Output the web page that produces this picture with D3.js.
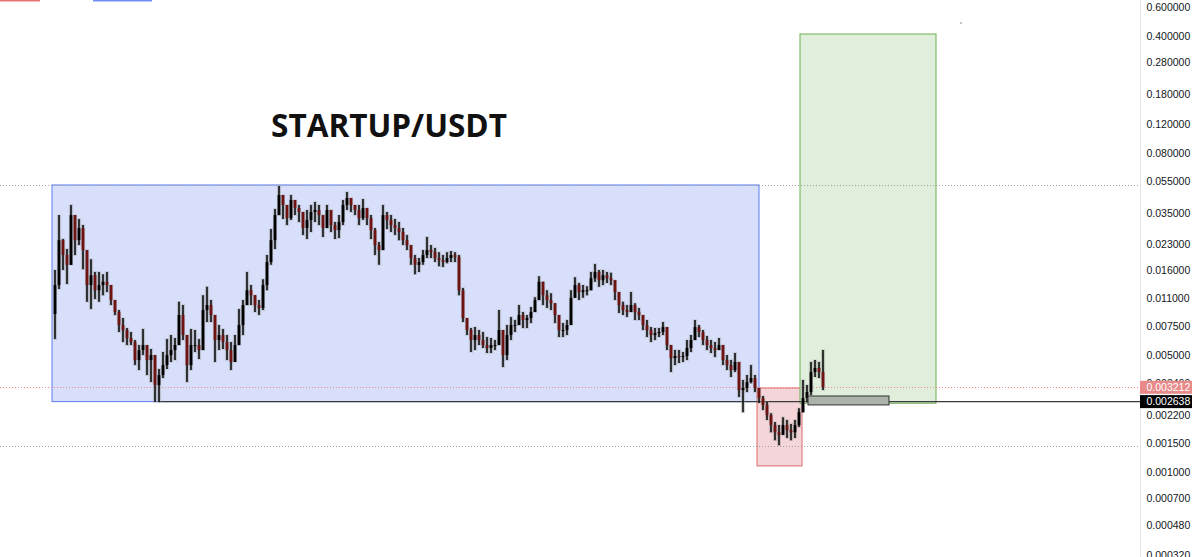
<!DOCTYPE html>
<html>
<head>
<meta charset="utf-8">
<script src="https://cdn.jsdelivr.net/npm/d3@7"></script>
<style>
  html, body { margin: 0; padding: 0; background: #fff; }
  svg { display: block; }
</style>
</head>
<body>
<div class="chart"></div>
<script>
// candle data (open = previous close)
const firstOpen = 0.0088;
const highs = [
  .0161,.0343,.0247,.0215,.0394,.0343,.0325,.0299,.0212,.0187,
  .0157,.0157,.0152,.0157,.0131,.01066,.00929,.00832,.00725,.00687,
  .00615,.00574,.00716,.00574,.00544,.00500,.00413,.00522,.00624,.00659,
  .00632,.0104,.00995,.00659,.00716,.00706,.00624,.0114,.0128,.01066,
  .00832,.00756,.00716,.00659,.00598,.00659,.00942,.01066,.0157,.0131,
  .0114,.01066,.0142,.0198,.0283,.0373,.0512,.0452,.0378,.0452,
  .0422,.0394,.0353,.0368,.0394,.0411,.0394,.0343,.0394,.0368,
  .0312,.0343,.0422,.0471,.0434,.0394,.0394,.0428,.0378,.0343,
  .0287,.0237,.0394,.0358,.0343,.0325,.0312,.0287,.0261,.0227,
  .0198,.0190,.0212,.0254,.0227,.0218,.0206,.0198,.0206,.0209,
  .0206,.0198,.0126,.00832,.00725,.00735,.00706,.00687,.00641,.00632,
  .00615,.00929,.00706,.00756,.00844,.00810,.00995,.00904,.00868,.00968,
  .0111,.0148,.0131,.0122,.0117,.00995,.00832,.00777,.00810,.0122,
  .0146,.0135,.0131,.0129,.0157,.0175,.0161,.0161,.0157,.0155,
  .0140,.0114,.0104,.00995,.0119,.0102,.00955,.00868,.00810,.00735,
  .00725,.00725,.00788,.00706,.00574,.00536,.00536,.00522,.00615,.00659,
  .00810,.00756,.00706,.00650,.00615,.00598,.00632,.00551,.00500,.00467,
  .00515,.00436,.00355,.00380,.00436,.00380,.00318,.00285,.00262,.00225,
  .00199,.00191,.00213,.00205,.00194,.00205,.00241,.00355,.00331,.00455,
  .00467,.00455,.00536
];
const lows = [
  .00624,.0124,.0161,.0133,.0185,.0198,.0227,.0163,.0104,.00942,
  .0108,.0104,.0114,.0119,.00995,.00868,.00687,.00598,.00574,.00574,
  .00436,.00407,.00500,.00380,.00345,.00262,.00262,.00365,.00413,.00455,
  .00467,.00598,.00615,.00345,.00407,.00522,.00474,.00574,.00788,.00788,
  .00455,.00536,.00544,.00467,.00407,.00474,.00574,.00659,.00995,.00995,
  .00904,.00868,.00929,.0122,.0173,.0215,.0343,.0325,.0299,.0321,
  .0343,.0312,.0261,.0247,.0272,.0312,.0299,.0254,.0287,.0272,
  .0247,.0250,.0299,.0368,.0358,.0343,.0299,.0321,.0299,.0247,
  .0198,.0173,.0212,.0283,.0272,.0261,.0243,.0227,.0212,.0173,
  .0152,.0157,.0173,.0190,.0190,.0180,.0170,.0168,.0177,.0180,
  .0180,.0114,.00788,.00659,.00522,.00536,.00574,.00551,.00515,.00515,
  .00536,.00574,.00424,.00467,.00615,.00687,.00756,.00725,.00725,.00777,
  .00904,.0114,.00995,.00955,.00929,.00777,.00641,.00641,.00659,.00810,
  .0114,.01066,.0110,.0114,.0122,.0137,.0128,.0131,.0135,.0131,
  .01066,.00892,.00868,.00844,.00904,.00810,.00810,.00706,.00641,.00598,
  .00615,.00641,.00659,.00536,.00396,.00436,.00448,.00455,.00467,.00522,
  .00632,.00641,.00574,.00536,.00515,.00487,.00536,.00436,.00407,.00370,
  .00396,.00281,.00228,.00301,.00340,.00301,.00259,.00235,.00205,.00173,
  .00155,.00145,.00167,.00160,.00155,.00160,.00186,.00235,.00262,.00289,
  .00370,.00365,.00309
];
const closes = [
  .0131,.0243,.0198,.0173,.0343,.0243,.0287,.0212,.0131,.0150,
  .0122,.0131,.0137,.0131,.01066,.00904,.00756,.00706,.00632,.00598,
  .00467,.00536,.00574,.00467,.00500,.00331,.00380,.00436,.00500,.00536,
  .00574,.00868,.00659,.00436,.00574,.00574,.00536,.00929,.00995,.00868,
  .00615,.00659,.00598,.00536,.00455,.00574,.00756,.00995,.0122,.0114,
  .00995,.00955,.0131,.0180,.0243,.0343,.0452,.0394,.0329,.0422,
  .0378,.0358,.0287,.0321,.0358,.0368,.0343,.0287,.0368,.0299,
  .0279,.0312,.0394,.0434,.0394,.0368,.0329,.0378,.0329,.0279,
  .0227,.0212,.0343,.0321,.0299,.0287,.0272,.0243,.0227,.0190,
  .0173,.0180,.0198,.0212,.0206,.0190,.0185,.0180,.0190,.0198,
  .0193,.0122,.00832,.00706,.00615,.00659,.00615,.00574,.00551,.00574,
  .00574,.00706,.00500,.00659,.00756,.00756,.00868,.00810,.00832,.00904,
  .01066,.0137,.0114,.01066,.0102,.00868,.00706,.00706,.00756,.0110,
  .0131,.0119,.0122,.0122,.0144,.0157,.0140,.0150,.0144,.0140,
  .0119,.00995,.00929,.00904,.00995,.00904,.00868,.00756,.00706,.00659,
  .00677,.00687,.00735,.00574,.00480,.00494,.00487,.00494,.00551,.00615,
  .00735,.00687,.00615,.00574,.00551,.00536,.00574,.00467,.00436,.00407,
  .00455,.00309,.00318,.00345,.00365,.00318,.00277,.00252,.00219,.00191,
  .00173,.00167,.00191,.00178,.00173,.00191,.00228,.00277,.00301,.00396,
  .00419,.00396,.00322
];

// price axis
const tickValues = [0.6, 0.4, 0.28, 0.18, 0.12, 0.08, 0.055, 0.035, 0.023, 0.016,
  0.011, 0.0075, 0.005, 0.0034, 0.0022, 0.0015, 0.001, 0.0007, 0.00048, 0.00032];
const lastPrice = 0.003212;
const linePrice = 0.002638;
const dottedLevels = [0.0519, 0.00143];

// drawings: [startIndex, endIndex, topPrice, bottomPrice]
const rangeBox = [-0.75, 176, 0.0519, 0.002638];
const stopBox = [175.5, 186.75, 0.00318, 0.00109];
const targetBox = [186.25, 220.25, 0.414, 0.00258];
const entryBox = [188.25, 208.5, 0.00285, 0.00252];
const lineStart = 25.8;

const W = 1200, H = 557, axisX = 1140;

const candles = closes.map((c, i) => {
  const o = i === 0 ? firstOpen : closes[i - 1];
  return {i: i, o: o, c: c, h: d3.max([highs[i], o, c]), l: d3.min([lows[i], o, c])};
});

const x = d3.scaleLinear().domain([0, candles.length - 1]).range([55, 823]);
const y = d3.scaleLog().domain([0.6, 0.00032]).range([7, 555]);

const svg = d3.select('.chart').append('svg')
  .attr('width', W).attr('height', H);

// boxes
function box(b, fill, stroke) {
  svg.append('rect')
    .attr('x', x(b[0])).attr('y', y(b[2]))
    .attr('width', x(b[1]) - x(b[0]))
    .attr('height', y(b[3]) - y(b[2]))
    .attr('fill', fill).attr('stroke', stroke).attr('stroke-width', 1);
}
box(rangeBox, '#d7dffa', '#5b7cf2');
box(stopBox, '#f4d5d9', '#e06a6a');
box(targetBox, '#e0eedc', '#6aaf52');

// dotted levels
svg.selectAll('.lvl')
  .data(dottedLevels)
  .enter()
  .append('line')
  .attr('class', 'lvl')
  .attr('x1', 0).attr('x2', axisX)
  .attr('y1', d => Math.round(y(d)) + 0.5).attr('y2', d => Math.round(y(d)) + 0.5)
  .attr('stroke', '#a0a0a0').attr('stroke-dasharray', '1,2');

svg.append('line')
  .attr('x1', 0).attr('x2', axisX)
  .attr('y1', Math.round(y(lastPrice)) + 0.5).attr('y2', Math.round(y(lastPrice)) + 0.5)
  .attr('stroke', '#f08a8a').attr('stroke-dasharray', '1,2');

// horizontal line
svg.append('line')
  .attr('x1', x(lineStart)).attr('x2', axisX)
  .attr('y1', y(linePrice)).attr('y2', y(linePrice))
  .attr('stroke', '#3a3a3a').attr('stroke-width', 1.4);

// candles
const cg = svg.append('g');
cg.selectAll('.halo')
  .data(candles)
  .enter()
  .append('rect')
  .attr('class', 'halo')
  .attr('x', d => x(d.i) - 2.1)
  .attr('y', d => y(d.h) - 0.6)
  .attr('width', 4.2)
  .attr('height', d => y(d.l) - y(d.h) + 1.2)
  .attr('fill', '#9a9a9a').attr('opacity', 0.45);

cg.selectAll('.wick')
  .data(candles)
  .enter()
  .append('line')
  .attr('class', 'wick')
  .attr('x1', d => x(d.i)).attr('x2', d => x(d.i))
  .attr('y1', d => y(d.h)).attr('y2', d => y(d.l))
  .attr('stroke', '#000').attr('stroke-width', 1.5);

cg.selectAll('.body')
  .data(candles)
  .enter()
  .append('rect')
  .attr('class', 'body')
  .attr('x', d => x(d.i) - 1.4)
  .attr('y', d => y(Math.max(d.o, d.c)))
  .attr('width', 2.8)
  .attr('height', d => Math.max(1, Math.abs(y(d.o) - y(d.c))))
  .attr('fill', d => d.c >= d.o ? '#000' : '#6e1212');

// entry box on top
svg.append('rect')
  .attr('x', x(entryBox[0])).attr('y', y(entryBox[2]))
  .attr('width', x(entryBox[1]) - x(entryBox[0]))
  .attr('height', y(entryBox[3]) - y(entryBox[2]))
  .attr('fill', '#aab2aa').attr('stroke', '#333').attr('stroke-width', 1);

// title
const title = svg.append('text')
  .attr('x', 389).attr('y', 137)
  .attr('text-anchor', 'middle')
  .attr('font-family', '"Open Sans", "Noto Sans", sans-serif')
  .attr('font-weight', 700)
  .attr('font-size', 34)
  .attr('fill', '#111')
  .text('STARTUP/USDT');
const tw = title.node().getComputedTextLength();
title.attr('font-size', 34 * 236 / tw);

// top-left leftovers and stray dot
svg.append('rect').attr('x', 0).attr('y', 0).attr('width', 40).attr('height', 1.5).attr('fill', '#e57373');
svg.append('rect').attr('x', 93).attr('y', 0).attr('width', 59).attr('height', 1.5).attr('fill', '#6f8ff5');
svg.append('rect').attr('x', 960).attr('y', 22).attr('width', 2).attr('height', 2).attr('fill', '#b8c8c8');

// price axis
svg.append('rect').attr('x', axisX).attr('y', 0).attr('width', W - axisX).attr('height', H).attr('fill', '#fff');
const yAxis = d3.axisRight(y)
  .tickValues(tickValues)
  .tickSize(0)
  .tickPadding(6)
  .tickFormat(d3.format('.6f'));
const ag = svg.append('g')
  .attr('class', 'axis y-axis')
  .attr('transform', `translate(${axisX + 0.5},0)`)
  .call(yAxis);
ag.select('.domain').attr('stroke', '#e0e3eb').attr('d', `M0,0V${H}`);
ag.selectAll('text')
  .attr('font-family', '"Liberation Sans", Arial, sans-serif')
  .attr('font-size', 10.5)
  .attr('fill', '#131722');

// price labels
function priceLabel(v, fill) {
  const cy = y(v);
  svg.append('rect')
    .attr('x', axisX).attr('y', cy - 6.5)
    .attr('width', 52).attr('height', 13)
    .attr('fill', fill);
  svg.append('text')
    .attr('x', axisX + 6.5).attr('y', cy)
    .attr('dy', '0.36em')
    .attr('font-family', '"Liberation Sans", Arial, sans-serif')
    .attr('font-size', 10.5)
    .attr('fill', '#fff')
    .text(d3.format('.6f')(v));
}
priceLabel(lastPrice, '#e88a8a');
priceLabel(linePrice, '#000');
</script>
</body>
</html>
